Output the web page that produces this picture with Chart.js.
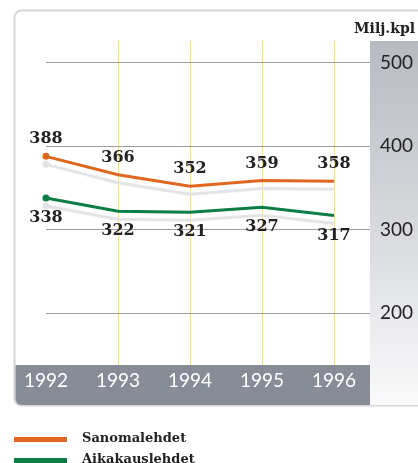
<!DOCTYPE html>
<html lang="fi">
<head>
  <meta charset="UTF-8" />
  <title>Sanomalehdet ja aikakauslehdet</title>
  <script src="https://cdn.jsdelivr.net/npm/chart.js"></script>
  <style>
    body {
      margin: 0;
      background: #fff;
      font-family: 'DejaVu Serif', serif;
    }
    .wrap {
      position: relative;
      width: 418px;
      height: 463px;
      overflow: hidden;
    }
    canvas { position: absolute; left: 0; top: 0; }
    .unit {
      position: absolute;
      right: 3px;
      top: 21px;
      font-size: 14px;
      line-height: 14px;
      font-weight: bold;
      color: #222;
    }
    .legend-line {
      position: absolute;
      left: 14px;
      width: 53px;
      height: 5px;
    }
    .legend-text {
      position: absolute;
      left: 82px;
      font-size: 13px;
      line-height: 13px;
      font-weight: bold;
      color: #222;
    }
  </style>
</head>
<body>

<div class="wrap">
  <canvas id="chart" width="418" height="463"></canvas>
  <div class="unit">Milj.kpl</div>
  <div class="legend-line" style="top:437px;background:#e0671f"></div>
  <div class="legend-text" style="top:431px">Sanomalehdet</div>
  <div class="legend-line" style="top:458px;background:#0b7d45"></div>
  <div class="legend-text" style="top:452px">Aikakauslehdet</div>
</div>

<script>
  const years = [1992, 1993, 1994, 1995, 1996];
  const sanomalehdet = [388, 366, 352, 359, 358];
  const aikakauslehdet = [338, 322, 321, 327, 317];
  const yTicks = [200, 300, 400, 500];

  const orange = '#e0671f';
  const green = '#0b7d45';

  // frame, grey side panel and the dark year band
  const backdrop = {
    id: 'backdrop',
    beforeDraw(chart) {
      const ctx = chart.ctx;
      const a = chart.chartArea;
      ctx.save();
      ctx.fillStyle = '#fff';
      ctx.fillRect(0, 0, chart.width, chart.height);

      ctx.beginPath();
      ctx.roundRect(14.5, 10.5, 430, 395, 7);
      ctx.strokeStyle = '#d4d6da';
      ctx.lineWidth = 2;
      ctx.stroke();

      const g = ctx.createLinearGradient(0, a.top, 0, 405);
      g.addColorStop(0, '#b7bac1');
      g.addColorStop(0.5, '#d6d8dc');
      g.addColorStop(1, '#fafafb');
      ctx.fillStyle = g;
      ctx.fillRect(a.right, a.top, chart.width - a.right, 405 - a.top);

      ctx.beginPath();
      ctx.roundRect(15.5, a.bottom, a.right - 15.5, 405 - a.bottom, [0, 0, 0, 6]);
      ctx.fillStyle = '#878c96';
      ctx.fill();
      ctx.restore();
    }
  };

  // pale shadow line under each series
  const shadow = {
    id: 'shadow',
    beforeDatasetDraw(chart) {
      const ctx = chart.ctx;
      ctx.save();
      ctx.shadowColor = '#e2e3e6';
      ctx.shadowOffsetX = 0;
      ctx.shadowOffsetY = 8;
      ctx.shadowBlur = 1;
    },
    afterDatasetDraw(chart) {
      chart.ctx.restore();
    }
  };

  // value labels: above the orange line, below the green one
  const valueLabels = {
    id: 'valueLabels',
    afterDatasetsDraw(chart) {
      const ctx = chart.ctx;
      ctx.save();
      ctx.font = 'bold 16px "DejaVu Serif"';
      ctx.fillStyle = '#222';
      ctx.textAlign = 'center';
      ctx.textBaseline = 'middle';
      chart.data.datasets.forEach((ds, i) => {
        const meta = chart.getDatasetMeta(i);
        const dy = i === 0 ? -17 : 20;
        meta.data.forEach((pt, j) => {
          ctx.fillText(String(ds.data[j].y), pt.x, pt.y + dy);
        });
      });
      ctx.restore();
    }
  };

  const tickFont = { family: 'Lato', size: 19 };

  new Chart(document.getElementById('chart'), {
    type: 'line',
    data: {
      datasets: [{
        label: 'Sanomalehdet',
        data: years.map((y, i) => ({ x: y, y: sanomalehdet[i] })),
        borderColor: orange,
        backgroundColor: orange,
        borderWidth: 3,
        pointRadius: ctx => ctx.dataIndex === 0 ? 3.5 : 0,
        pointBorderWidth: 0,
        clip: false
      }, {
        label: 'Aikakauslehdet',
        data: years.map((y, i) => ({ x: y, y: aikakauslehdet[i] })),
        borderColor: green,
        backgroundColor: green,
        borderWidth: 3,
        pointRadius: ctx => ctx.dataIndex === 0 ? 3.5 : 0,
        pointBorderWidth: 0,
        clip: false
      }]
    },
    options: {
      responsive: false,
      animation: false,
      layout: { padding: { top: 41, left: 46, right: 0, bottom: 58 } },
      plugins: {
        legend: { display: false },
        tooltip: { enabled: false }
      },
      scales: {
        x: {
          type: 'linear',
          min: 1992,
          max: 1992 + 324 / 72,
          afterBuildTicks: s => { s.ticks = years.map(v => ({ value: v })); },
          afterFit: s => { s.height = 40; },
          border: { display: false },
          grid: {
            drawTicks: false,
            color: c => c.tick && c.tick.value === 1992 ? 'rgba(0,0,0,0)' : '#fae26a',
            lineWidth: 1
          },
          ticks: {
            color: '#fff',
            font: tickFont,
            padding: 4,
            callback: v => String(v)
          }
        },
        y: {
          position: 'right',
          min: 137.6,
          max: 526.4,
          afterBuildTicks: s => { s.ticks = yTicks.map(v => ({ value: v })); },
          afterFit: s => { s.width = 48; },
          border: { display: false },
          grid: {
            drawTicks: false,
            color: '#9c9ea3',
            lineWidth: 1
          },
          ticks: {
            color: '#222',
            font: tickFont,
            padding: 10
          }
        }
      }
    },
    plugins: [backdrop, shadow, valueLabels]
  });
</script>

</body>
</html>
